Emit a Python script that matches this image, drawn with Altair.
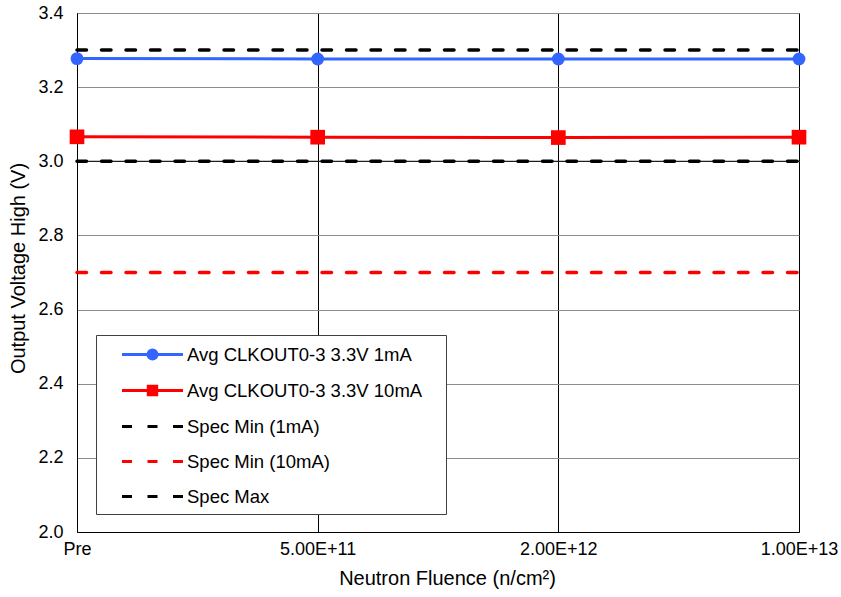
import altair as alt
import pandas as pd

FONT = "Liberation Sans, Arial, sans-serif"

# Neutron fluence steps (categorical x axis)
fluence = ["Pre", "5.00E+11", "2.00E+12", "1.00E+13"]

# Series names in legend order
series_names = [
    "Avg CLKOUT0-3 3.3V 1mA",
    "Avg CLKOUT0-3 3.3V 10mA",
    "Spec Min (1mA)",
    "Spec Min (10mA)",
    "Spec Max",
]

# Measured output-high voltage (V)
voh_1ma = [3.277, 3.276, 3.276, 3.276]
voh_10ma = [3.066, 3.065, 3.064, 3.065]

# Datasheet limits (V)
spec_min_1ma = [3.0, 3.0, 3.0, 3.0]
spec_min_10ma = [2.7, 2.7, 2.7, 2.7]
spec_max = [3.3, 3.3, 3.3, 3.3]

series_colors = ["#3366FF", "#FF0000", "#000000", "#FF0000", "#000000"]
y_ticks = [2.0, 2.2, 2.4, 2.6, 2.8, 3.0, 3.2, 3.4]

# Legend glyphs: line with marker, or a dashed line
legend_glyphs = [
    "M-3.05,0H3.05M0.45,0A0.45,0.45,0,1,1,-0.45,0A0.45,0.45,0,1,1,0.45,0Z",
    "M-3.05,0H3.05M-0.42,-0.42H0.42V0.42H-0.42Z",
    "M-3.05,0H-2.05M-0.5,0H0.5M2.05,0H3.05",
    "M-3.05,0H-2.05M-0.5,0H0.5M2.05,0H3.05",
    "M-3.05,0H-2.05M-0.5,0H0.5M2.05,0H3.05",
]

all_values = [voh_1ma, voh_10ma, spec_min_1ma, spec_min_10ma, spec_max]
rows = []
for name, vals in zip(series_names, all_values):
    for f, v in zip(fluence, vals):
        rows.append({"fluence": f, "voh": v, "series": name})
df = pd.DataFrame(rows)

x_enc = alt.X(
    "fluence:N",
    sort=fluence,
    scale=alt.Scale(type="point", padding=0),
    axis=alt.Axis(
        title="Neutron Fluence (n/cm²)",
        labelAngle=0,
        grid=True,
        gridColor="#000000",
        gridWidth=1,
        ticks=False,
        domainColor="#000000",
        labelPadding=8,
        titlePadding=10,
        titleX=370,
    ),
)
y_enc = alt.Y(
    "voh:Q",
    scale=alt.Scale(domain=[2.0, 3.4], nice=False, zero=False),
    axis=alt.Axis(
        title="Output Voltage High (V)",
        values=y_ticks,
        format=".1f",
        grid=True,
        gridColor="#8C8C8C",
        ticks=False,
        domainColor="#000000",
        labelPadding=14,
        titlePadding=9,
        titleY=255,
    ),
)

base = alt.Chart(df)


def only(name):
    return alt.FieldEqualPredicate(field="series", equal=name)


# thin reference line under the 1 mA spec-min dashes
min_rule = (
    base.mark_rule(color="#000000", strokeWidth=1)
    .encode(y="voh:Q")
    .transform_filter(only(series_names[2]))
    .transform_filter(alt.FieldEqualPredicate(field="fluence", equal=fluence[0]))
)

layers = [min_rule]

# dashed limit lines
for name, col in zip(series_names[2:], series_colors[2:]):
    layers.append(
        base.mark_line(strokeWidth=3.5, strokeDash=[9.5, 15], strokeCap="round", color=col)
        .encode(x=x_enc, y=y_enc)
        .transform_filter(only(name))
    )

# measured lines with markers
for name, col, shp, sz in zip(series_names[:2], series_colors[:2], ["circle", "square"], [165, 215]):
    layers.append(
        base.mark_line(strokeWidth=3, color=col).encode(x=x_enc, y=y_enc).transform_filter(only(name))
    )
    layers.append(
        base.mark_point(shape=shp, filled=True, size=sz, opacity=1, color=col)
        .encode(x=x_enc, y=y_enc)
        .transform_filter(only(name))
    )

legend_spec = alt.Legend(
    title=None,
    orient="none",
    legendX=19,
    legendY=322,
    padding=8,
    fillColor="#FFFFFF",
    strokeColor="#404040",
    symbolSize=400,
    symbolStrokeWidth=3,
    symbolOpacity=1,
    symbolOffset=37,
    labelOffset=23,
    labelFont=FONT,
    labelFontSize=18.5,
    labelColor="#000000",
    labelLimit=0,
    # trailing non-breaking spaces (kept by a zero-width end char) widen the box
    labelExpr="datum.label + '\u00a0\u00a0\u00a0\u200b'",
    rowPadding=14,
)

# carries the legend only; its own points are fully transparent
legend_layer = base.mark_point(filled=True, opacity=0, strokeWidth=3).encode(
    x=x_enc,
    y=y_enc,
    fill=alt.Fill("series:N", scale=alt.Scale(domain=series_names, range=series_colors), legend=legend_spec),
    stroke=alt.Stroke("series:N", scale=alt.Scale(domain=series_names, range=series_colors), legend=legend_spec),
    shape=alt.Shape("series:N", scale=alt.Scale(domain=series_names, range=legend_glyphs), legend=legend_spec),
)
layers.append(legend_layer)

chart = (
    alt.layer(*layers)
    .properties(
        width=722,
        height=519,
        autosize=alt.AutoSizeParams(type="none"),
        padding={"left": 77, "top": 13, "right": 42, "bottom": 65},
    )
    .configure(font=FONT)
    .configure_view(stroke="#333333", strokeWidth=1)
    .configure_axis(
        labelFont=FONT,
        titleFont=FONT,
        labelFontSize=18,
        titleFontSize=20,
        titleFontWeight="normal",
        labelColor="#000000",
        titleColor="#000000",
    )
)

chart.save("out.html", embed_options={"renderer": "svg", "actions": False})
